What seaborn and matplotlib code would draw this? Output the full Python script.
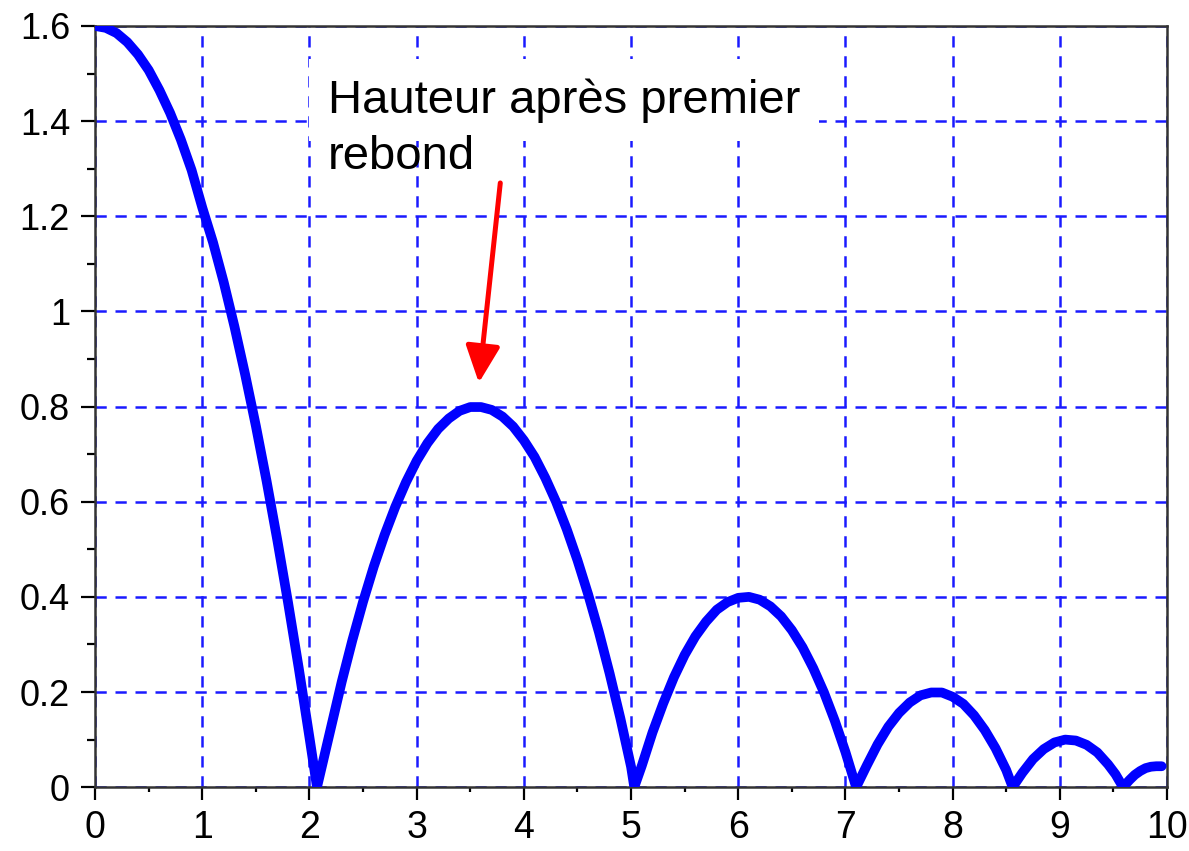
import matplotlib.pyplot as plt
import seaborn as sns
from matplotlib.ticker import MultipleLocator

# Height of the bouncing ball
time_s = [0.0, 0.1, 0.2, 0.3, 0.4, 0.5, 0.6, 0.7, 0.8, 0.9, 1.0, 1.1, 1.2, 1.3, 1.4,
          1.5, 1.6, 1.7, 1.8, 1.9, 2.0, 2.07,
          2.2, 2.3, 2.4, 2.5, 2.6, 2.7, 2.8, 2.9, 3.0, 3.1, 3.2, 3.3, 3.4, 3.5, 3.6,
          3.7, 3.8, 3.9, 4.0, 4.1, 4.2, 4.3, 4.4, 4.5, 4.6, 4.7, 4.8, 4.9, 5.0, 5.03,
          5.1, 5.2, 5.3, 5.4, 5.5, 5.6, 5.7, 5.8, 5.9, 6.0, 6.1, 6.2, 6.3, 6.4, 6.5,
          6.6, 6.7, 6.8, 6.9, 7.0, 7.1,
          7.2, 7.3, 7.4, 7.5, 7.6, 7.7, 7.8, 7.9, 8.0, 8.1, 8.2, 8.3, 8.4, 8.5, 8.56,
          8.65, 8.75, 8.85, 8.95, 9.05, 9.15, 9.25, 9.35, 9.45, 9.52, 9.59,
          9.65, 9.7, 9.75, 9.8, 9.85, 9.9, 9.95]
height = [1.600, 1.596, 1.585, 1.566, 1.540, 1.507, 1.465, 1.417, 1.361, 1.297, 1.218,
          1.145, 1.061, 0.968, 0.867, 0.759, 0.643, 0.519, 0.388, 0.250, 0.104, 0.0,
          0.125, 0.221, 0.309, 0.390, 0.464, 0.530, 0.589, 0.641, 0.686, 0.723, 0.753,
          0.775, 0.791, 0.799, 0.799, 0.793, 0.779, 0.758, 0.729, 0.694, 0.650, 0.600,
          0.542, 0.477, 0.405, 0.326, 0.239, 0.145, 0.043, 0.0,
          0.045, 0.115, 0.176, 0.231, 0.278, 0.317, 0.348, 0.373, 0.389, 0.398, 0.400,
          0.394, 0.380, 0.359, 0.330, 0.294, 0.250, 0.199, 0.140, 0.074, 0.0,
          0.046, 0.090, 0.127, 0.156, 0.178, 0.193, 0.199, 0.199, 0.190, 0.175, 0.151,
          0.120, 0.082, 0.036, 0.0,
          0.030, 0.059, 0.080, 0.094, 0.100, 0.098, 0.089, 0.073, 0.048, 0.027, 0.0,
          0.015, 0.026, 0.034, 0.040, 0.043, 0.044, 0.044]

x_ticks = list(range(0, 11))
y_ticks = [0, 0.2, 0.4, 0.6, 0.8, 1.0, 1.2, 1.4, 1.6]
y_tick_labels = ['0', '0.2', '0.4', '0.6', '0.8', '1', '1.2', '1.4', '1.6']

label_line1 = 'Hauteur après premier'
label_line2 = 'rebond'

sns.set_style('white')
plt.rcParams['font.family'] = ['Liberation Sans', 'DejaVu Sans']
plt.rcParams['text.color'] = 'black'
plt.rcParams['xtick.color'] = 'black'
plt.rcParams['ytick.color'] = 'black'

fig = plt.figure(figsize=(11.89, 8.51), dpi=100)
ax = fig.add_axes([0.080, 0.075, 0.9015, 0.8945])

sns.lineplot(x=time_s, y=height, estimator=None, sort=False, color='#0000ff',
             linewidth=7, ax=ax, zorder=3)

ax.set_xlim(0, 10)
ax.set_ylim(0, 1.6)
ax.set_xticks(x_ticks)
ax.set_xticklabels([str(v) for v in x_ticks])
ax.set_yticks(y_ticks)
ax.set_yticklabels(y_tick_labels)
ax.xaxis.set_minor_locator(MultipleLocator(0.5))
ax.yaxis.set_minor_locator(MultipleLocator(0.1))

ax.grid(True, which='major', color='#1a1aff', linestyle=(0, (4.5, 3.5)), linewidth=1.8)
ax.tick_params(axis='x', which='major', direction='out', length=9.5, width=1.6,
               labelsize=27, pad=7, colors='black')
ax.tick_params(axis='y', which='major', direction='out', length=10, width=1.6,
               labelsize=26, pad=8, colors='black')
ax.tick_params(axis='x', which='minor', direction='out', length=3.5, width=1.6)
ax.tick_params(axis='y', which='minor', direction='out', length=6, width=1.6)
ax.tick_params(which='both', bottom=True, left=True, top=False, right=False)

for side in ['left', 'right', 'top', 'bottom']:
    ax.spines[side].set_visible(True)
    ax.spines[side].set_color('#333333')
    ax.spines[side].set_linewidth(1.8)

# annotation: text with white box on the first line, arrow pointing at the peak
ax.text(2.17, 1.418, label_line1, fontsize=34, va='baseline', ha='left', zorder=4,
        bbox=dict(boxstyle='square,pad=0.4', facecolor='white', edgecolor='none'))
ax.text(2.17, 1.300, label_line2, fontsize=34, va='baseline', ha='left', zorder=5)
ax.annotate('', xy=(3.58, 0.85), xytext=(3.78, 1.27), zorder=6,
            arrowprops=dict(arrowstyle='-|>,head_length=0.45,head_width=0.21',
                            mutation_scale=50, color='red', lw=3.6,
                            shrinkA=0, shrinkB=0))

fig.savefig('out.png', dpi=100)
